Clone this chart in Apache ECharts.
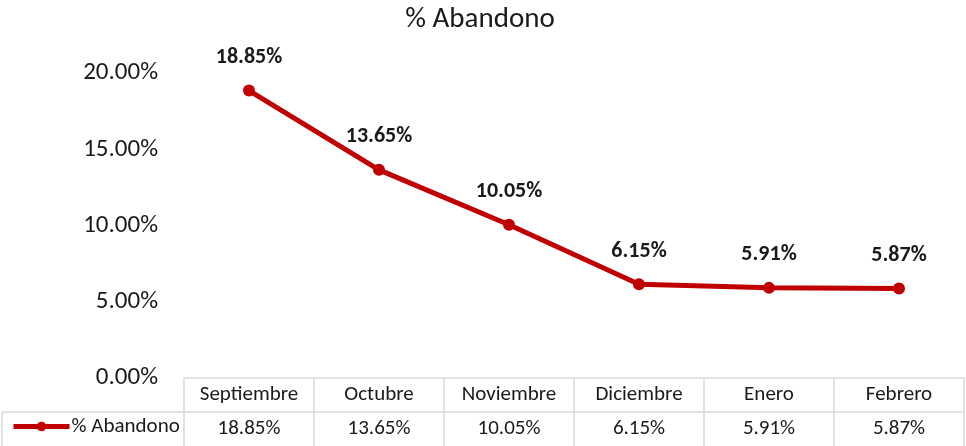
<!DOCTYPE html>
<html>
<head>
<meta charset="utf-8">
<script src="https://cdn.jsdelivr.net/npm/echarts@6/dist/echarts.min.js"></script>
<style>
html,body{margin:0;padding:0;background:#fff;}
#chart{width:966px;height:446px;}
</style>
</head>
<body>
<div id="chart"></div>
<script>
var months=['Septiembre','Octubre','Noviembre','Diciembre','Enero','Febrero'];
var abandono=[18.85,13.65,10.05,6.15,5.91,5.87];
var yTicks=[0,5,10,15,20];
var seriesName='% Abandono';

var font='Carlito, Lato, sans-serif';
var border='#d9d9d9';
var chart=echarts.init(document.getElementById('chart'));
chart.setOption({
	backgroundColor:'#fff',
	animation:false,
	title:{
		text:'% Abandono',left:475,top:0,textAlign:'center',
		textStyle:{fontFamily:font,fontSize:29,fontWeight:'normal',color:'#1a1a1a'}
	},
	legend:{
		data:[seriesName],left:6,bottom:4,itemWidth:56,itemHeight:12,itemGap:0,
		lineStyle:{width:5,color:'#c00000'},
		itemStyle:{color:'#c00000'},
		textStyle:{fontFamily:font,fontSize:21,color:'#1a1a1a',padding:[0,0,0,-3]}
	},
	grid:{left:184,right:2,top:73,bottom:68,outerBoundsMode:'none'},
	xAxis:{
		type:'category',data:months,boundaryGap:true,
		axisLine:{show:true,lineStyle:{color:border,width:1.5}},
		axisTick:{show:true,length:68,lineStyle:{color:border,width:1.5}},
		axisLabel:{
			margin:0,interval:0,
			formatter:function(v,i){return '{a|'+v+'}\n{b|'+abandono[i].toFixed(2)+'%}';},
			rich:{
				a:{fontFamily:font,fontSize:21,color:'#1a1a1a',lineHeight:34,height:34},
				b:{fontFamily:font,fontSize:21,color:'#1a1a1a',lineHeight:34,height:34}
			}
		}
	},
	yAxis:{
		type:'value',min:yTicks[0],max:yTicks[yTicks.length-1],interval:5,
		axisLine:{show:false},axisTick:{show:false},splitLine:{show:false},
		axisLabel:{margin:26,fontFamily:font,fontSize:25,color:'#1a1a1a',
			formatter:function(v){return v.toFixed(2)+'%';}}
	},
	series:[{
		name:seriesName,type:'line',data:abandono,
		symbol:'circle',symbolSize:12,
		lineStyle:{color:'#c00000',width:5},
		itemStyle:{color:'#c00000'},
		label:{show:true,position:'top',distance:16,fontFamily:font,fontSize:22,fontWeight:'bold',color:'#1a1a1a',
			formatter:function(p){return p.value.toFixed(2)+'%';}}
	}],
	graphic:[
		{type:'line',shape:{x1:2,y1:412,x2:964,y2:412},style:{stroke:border,lineWidth:1.5}},
		{type:'line',shape:{x1:2,y1:412,x2:2,y2:446},style:{stroke:border,lineWidth:1.5}}
	]
});
</script>
</body>
</html>
